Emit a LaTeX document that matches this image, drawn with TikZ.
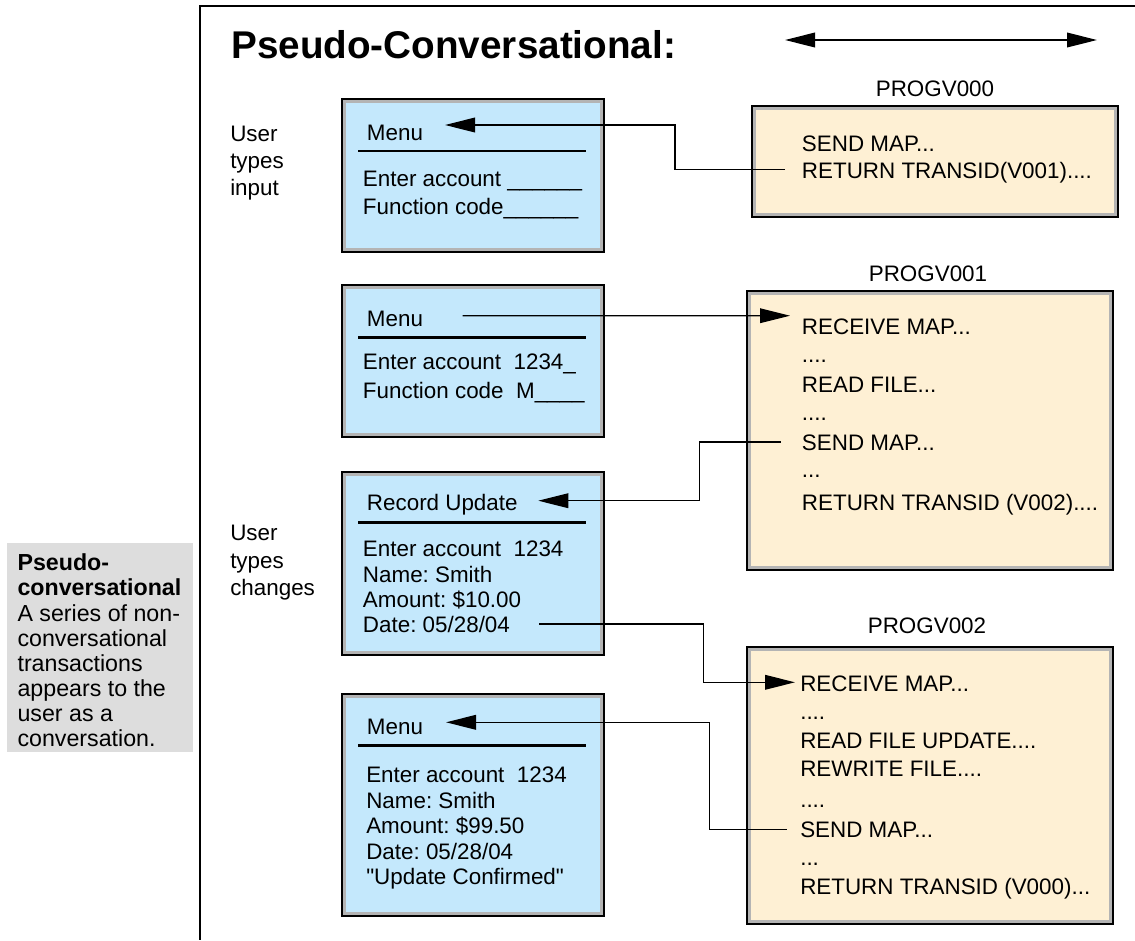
\documentclass[tikz,border=0pt]{standalone}
\usepackage{fontspec}
\setmainfont{Liberation Sans}[Ligatures=TeXOff]
\usetikzlibrary{arrows.meta,fit,calc}
\definecolor{scrblue}{RGB}{196,232,252}
\definecolor{progbeige}{RGB}{254,240,212}
\definecolor{bandgray}{RGB}{180,180,180}
\definecolor{sidegray}{RGB}{221,221,221}
\frenchspacing
\begin{document}
\begin{tikzpicture}[x=0.75pt,y=-0.75pt,
  txt/.style={anchor=west, inner sep=0pt, text height=12pt, text depth=0pt, font=\fontsize{16.8}{20}\selectfont},
  lbl/.style={anchor=center, inner sep=0pt, text height=12pt, text depth=0pt, font=\fontsize{16.8}{20}\selectfont},
  side/.style={anchor=west, inner sep=0pt, text height=12.5pt, text depth=0pt, font=\fontsize{17.4}{20}\selectfont},
  sideb/.style={side, font=\fontsize{17.4}{20}\selectfont\bfseries},
  panel/.style={draw=black, line width=1.5pt, fill=bandgray, inner sep=0pt,
    path picture={\fill[#1] ([shift={(4,4)}]path picture bounding box.north west) rectangle ([shift={(-4,-4)}]path picture bounding box.south east);}},
  conn/.style={draw=black, line width=1pt},
  tip/.style={-{Triangle[length=22.5pt,width=11pt]}},
  sepline/.style={line width=2pt},
  frameline/.style={line width=1.5pt},
]
\useasboundingbox (0,0) rectangle (1135,940);

% frame
\coordinate (ftl) at (199.5,6);
\draw[frameline] (1135,6) -- (ftl) -- (199.5,940);

% title and double arrow
\node[anchor=base west, inner sep=0pt, font=\fontsize{29}{33}\selectfont\bfseries] (title) at (231,58) {Pseudo-Conversational:};
\coordinate (dl) at (785,40);
\coordinate (dr) at (1097,40);
\draw[conn,{Triangle[length=22.5pt,width=11pt]}-{Triangle[length=22.5pt,width=11pt]}] (dl) -- (dr);

% sidebar
\node[fill=sidegray, inner sep=0pt, fit={(7,543) (193,752)}] (sidebox) {};
\node[sideb] (s1) at (17.3,562) {Pseudo-};
\node[sideb] (s2) at (17.3,587) {conversational};
\node[side] (s3) at (17.3,613) {A series of non-};
\node[side] (s4) at (17.3,638) {conversational};
\node[side] (s5) at (17.3,663) {transactions};
\node[side] (s6) at (17.3,688) {appears to the};
\node[side] (s7) at (17.3,713) {user as a};
\node[side] (s8) at (17.3,738) {conversation.};

% user labels
\node[txt] (u1) at (230,133) {User};
\node[txt] (u2) at (230,160) {types};
\node[txt] (u3) at (230,187) {input};
\node[txt] (v1) at (230,532) {User};
\node[txt] (v2) at (230,560) {types};
\node[txt] (v3) at (230,587) {changes};

% screen 1
\node[panel=scrblue, fit={(342,99) (604,252)}] (scr1) {};
\node[txt] (m1) at (366.7,132.7) {Menu};
\draw[sepline] (358,151) -- (586,151);
\node[txt] (m1a) at (362.7,178) {Enter account \_\_\_\_\_\_};
\node[txt] (m1b) at (362.7,206.7) {Function code\_\_\_\_\_\_};

% screen 2
\node[panel=scrblue, fit={(342,285) (604,437)}] (scr2) {};
\node[txt] (m2) at (366.7,318.3) {Menu};
\draw[sepline] (358,337.7) -- (586,337.7);
\node[txt] (m2a) at (362.7,361.7) {Enter account\ \ 1234\_};
\node[txt] (m2b) at (362.7,390.7) {Function code\ \ M\_\_\_\_};

% screen 3
\node[panel=scrblue, fit={(342,472) (604,655)}] (scr3) {};
\node[txt] (r3) at (366.7,502.7) {Record Update};
\draw[sepline] (358,522.7) -- (586,522.7);
\node[txt] (r3a) at (362.7,548.3) {Enter account\ \ 1234};
\node[txt] (r3b) at (362.7,574.3) {Name: Smith};
\node[txt] (r3c) at (362.7,599.3) {Amount: \$10.00};
\node[txt] (r3d) at (362.7,624) {Date: 05/28/04};

% screen 4
\node[panel=scrblue, fit={(342,694) (604,916)}] (scr4) {};
\node[txt] (m4) at (366.7,726.7) {Menu};
\draw[sepline] (358,745.7) -- (586,745.7);
\node[txt] (m4a) at (366,774) {Enter account\ \ 1234};
\node[txt] (m4b) at (366,800) {Name: Smith};
\node[txt] (m4c) at (366,825) {Amount: \$99.50};
\node[txt] (m4d) at (366,851.7) {Date: 05/28/04};
\node[txt] (m4e) at (366,876.7) {"Update Confirmed"};

% program 0
\node[lbl] (p0) at (935,88) {PROGV000};
\node[panel=progbeige, fit={(752,106) (1118,217)}] (prog0) {};
\node[txt] (p0a) at (801.7,143.3) {SEND MAP...};
\node[txt] (p0b) at (801.7,170.7) {RETURN TRANSID(V001)....};

% program 1
\node[lbl] (p1) at (928,273) {PROGV001};
\node[panel=progbeige, fit={(747,291) (1113,570)}] (prog1) {};
\node[txt] (p1a) at (801.7,326) {RECEIVE MAP...};
\node[txt] (p1b) at (801.7,354) {....};
\node[txt] (p1c) at (801.7,384) {READ FILE...};
\node[txt] (p1d) at (801.7,412) {....};
\node[txt] (p1e) at (801.7,442) {SEND MAP...};
\node[txt] (p1f) at (801.7,469) {...};
\node[txt] (p1g) at (801.7,502) {RETURN TRANSID (V002)....};

% program 2
\node[lbl] (p2) at (927,625) {PROGV002};
\node[panel=progbeige, fit={(747,647) (1113,924)}] (prog2) {};
\node[txt] (p2a) at (800,683.3) {RECEIVE MAP...};
\node[txt] (p2b) at (800,711) {....};
\node[txt] (p2c) at (800,740) {READ FILE UPDATE....};
\node[txt] (p2d) at (800,768.3) {REWRITE FILE....};
\node[txt] (p2e) at (800,799) {....};
\node[txt] (p2f) at (800,829.3) {SEND MAP...};
\node[txt] (p2g) at (800,857) {...};
\node[txt] (p2h) at (800,886) {RETURN TRANSID (V000)...};

% connectors
\coordinate (c1s) at ($(p0b.west)+(-16.7,-1.2)$);
\coordinate (c1e) at ($(m1.west)+(78.3,-7.7)$);
\draw[conn,tip] (c1s) -- ++(-110,0) |- (c1e);

\coordinate (c2s) at ($(m2.west)+(96,-2.6)$);
\coordinate (c2e) at ($(p1a.west)+(-11.7,-10.3)$);
\draw[conn,tip] (c2s) -- (c2e);

\coordinate (c3s) at ($(p1e.west)+(-21,0)$);
\coordinate (c3e) at ($(r3.west)+(171.6,-2)$);
\draw[conn,tip] (c3s) -- ++(-81,0) |- (c3e);

\coordinate (c4s) at ($(r3d.west)+(176.6,0)$);
\coordinate (c4e) at ($(p2a.west)+(-5,-1)$);
\draw[conn,tip] (c4s) -- ++(164,0) |- (c4e);

\coordinate (c5s) at ($(p2f.west)+(-13.3,0)$);
\coordinate (c5e) at ($(m4.west)+(79.3,-4.4)$);
\draw[conn,tip] (c5s) -- ++(-77.4,0) |- (c5e);
\end{tikzpicture}
\end{document}
